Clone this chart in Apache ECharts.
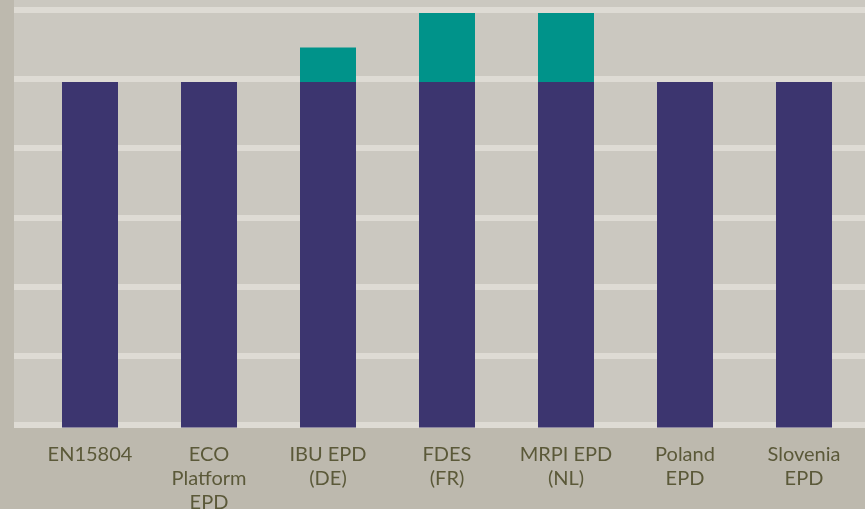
<!DOCTYPE html>
<html>
<head>
<meta charset="utf-8">
<style>
html,body{margin:0;padding:0;background:#bdb9ae;}
#chart{width:865px;height:509px;}
</style>
<script src="https://cdn.jsdelivr.net/npm/echarts@6/dist/echarts.min.js"></script>
</head>
<body>
<div id="chart"></div>
<script>
const categories = ['EN15804', 'ECO\nPlatform\nEPD', 'IBU EPD\n(DE)', 'FDES\n(FR)', 'MRPI EPD\n(NL)', 'Poland\nEPD', 'Slovenia\nEPD'];
const baseValues = [5, 5, 5, 5, 5, 5, 5];
const extraValues = [0, 0, 0.5, 1, 1, 0, 0];

const chart = echarts.init(document.getElementById('chart'), null, {renderer: 'canvas'});
// bar axis shifted ~3px so bar tops meet the lower edge of the 6px grid lines
const shift = 0.0434;
chart.setOption({
  backgroundColor: '#bdb9ae',
  animation: false,
  graphic: [{
    type: 'rect', left: 14, top: 0, z: -10,
    shape: {width: 851, height: 428},
    style: {fill: '#cbc8c0'}
  }],
  grid: [
    {left: 14, right: 0, top: 10, bottom: 84.5, containLabel: false, outerBoundsMode: 'none'},
    {left: 30.5, right: 1.5, top: 10, bottom: 84.5, containLabel: false, outerBoundsMode: 'none'}
  ],
  xAxis: [{
    type: 'value', gridIndex: 0, min: 0, max: 1, show: false
  }, {
    type: 'category', gridIndex: 1, data: categories,
    axisLine: {show: false}, axisTick: {show: false},
    axisLabel: {
      color: '#5b5939', fontFamily: 'Lato', fontSize: 20, lineHeight: 24,
      margin: 18, interval: 0
    }
  }],
  yAxis: [{
    type: 'value', gridIndex: 0, min: 0, max: 6, interval: 1,
    axisLine: {show: false}, axisTick: {show: false}, axisLabel: {show: false},
    splitLine: {show: true, lineStyle: {color: '#dedbd4', width: 6}}
  }, {
    type: 'value', gridIndex: 1, min: shift, max: 6 + shift,
    axisLine: {show: false}, axisTick: {show: false}, axisLabel: {show: false},
    splitLine: {show: false}
  }],
  series: [{
    type: 'bar', stack: 'a', xAxisIndex: 1, yAxisIndex: 1, data: baseValues, barWidth: 56, clip: false,
    itemStyle: {color: '#3c356f'}
  }, {
    type: 'bar', stack: 'a', xAxisIndex: 1, yAxisIndex: 1, data: extraValues, barWidth: 56, clip: false,
    itemStyle: {color: '#00938a'}
  }]
});
</script>
</body>
</html>
